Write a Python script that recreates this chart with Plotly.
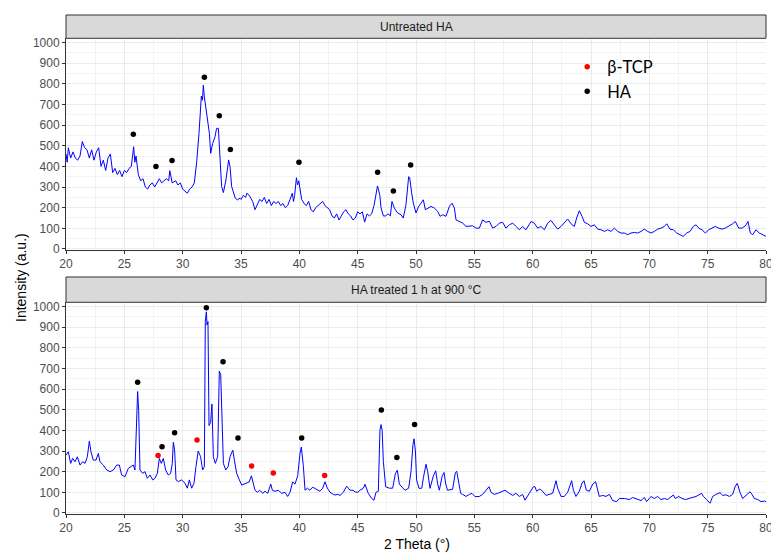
import plotly.graph_objects as go

# ---------------- data ----------------
untreated_x = [20.0, 20.1, 20.2, 20.4, 20.6, 20.8, 21.0, 21.2, 21.4, 21.6, 21.8, 22.0, 22.2, 22.4, 22.6, 22.8,
               23.0, 23.2, 23.4, 23.6, 23.8, 24.0, 24.2, 24.4, 24.6, 24.8, 25.0, 25.2, 25.4, 25.6, 25.8, 25.9,
               26.0, 26.2, 26.4, 26.6, 26.8, 27.0, 27.2, 27.4, 27.6, 27.8, 28.0, 28.2, 28.4, 28.6, 28.8, 28.9,
               29.1, 29.4, 29.6, 29.8, 30.0, 30.2, 30.4, 30.6, 30.8, 31.0, 31.2, 31.4, 31.5, 31.6, 31.7, 31.77,
               31.85, 31.95, 32.11, 32.29, 32.4, 32.57, 32.77, 32.91, 33.06, 33.2, 33.34, 33.49, 33.71, 33.94,
               34.06, 34.2, 34.34, 34.51, 34.69, 34.91, 35.0, 35.2, 35.4, 35.5, 35.7, 35.9, 36.0, 36.2, 36.4,
               36.6, 36.8, 37.0, 37.2, 37.4, 37.6, 37.8, 38.0, 38.2, 38.4, 38.6, 38.8, 39.0, 39.2, 39.4, 39.5,
               39.6, 39.75, 39.85, 39.95, 40.05, 40.2, 40.4, 40.6, 40.8, 41.0, 41.2, 41.4, 41.6, 41.8, 42.0,
               42.2, 42.4, 42.6, 42.8, 43.0, 43.2, 43.4, 43.6, 43.8, 44.0, 44.2, 44.4, 44.6, 44.8, 45.0, 45.2,
               45.4, 45.6, 45.8, 46.0, 46.2, 46.4, 46.6, 46.7, 46.9, 47.0, 47.2, 47.4, 47.6, 47.8, 47.94, 48.14,
               48.43, 48.71, 48.91, 49.14, 49.37, 49.46, 49.63, 49.77, 50.0, 50.23, 50.43, 50.63, 50.8, 51.0,
               51.29, 51.57, 51.86, 52.06, 52.29, 52.57, 52.86, 53.09, 53.29, 53.43, 53.71, 54.0, 54.29, 54.57,
               54.86, 55.14, 55.43, 55.71, 56.0, 56.29, 56.57, 56.86, 57.14, 57.43, 57.71, 58.0, 58.29, 58.57,
               58.86, 59.14, 59.43, 59.86, 60.14, 60.43, 60.71, 61.0, 61.29, 61.57, 61.86, 62.14, 62.43, 62.71,
               63.0, 63.29, 63.57, 63.77, 64.0, 64.23, 64.43, 64.71, 65.0, 65.29, 65.57, 65.86, 66.14, 66.43,
               66.71, 67.0, 67.29, 67.57, 67.86, 68.14, 68.43, 68.71, 69.0, 69.29, 69.57, 69.86, 70.14, 70.43,
               70.71, 71.0, 71.29, 71.49, 71.77, 72.06, 72.34, 72.63, 72.91, 73.2, 73.49, 73.77, 74.0, 74.23,
               74.51, 74.8, 75.09, 75.37, 75.66, 75.94, 76.23, 76.51, 76.8, 77.14, 77.37, 77.66, 77.94, 78.23,
               78.46, 78.66, 78.86, 79.14, 79.43, 79.71, 80.0]
untreated_y = [460, 420, 490, 440, 470, 440, 430, 450, 520, 490, 480, 440, 480, 430, 470, 490,
               400, 430, 380, 440, 460, 370, 390, 360, 380, 350, 380, 370, 390, 400, 495, 420,
               450, 360, 330, 340, 300, 290, 310, 320, 300, 320, 340, 320, 330, 340, 330, 379,
               320, 330, 310, 320, 290, 280, 270, 290, 300, 320, 420, 560, 680, 740, 720, 793,
               740, 700, 624, 560, 463, 511, 543, 584, 584, 431, 302, 273, 334, 431,
               399, 302, 270, 246, 238, 246, 240, 260, 250, 270, 260, 240, 230, 190, 220,
               240, 230, 250, 220, 240, 210, 230, 220, 230, 210, 220, 200, 210, 240, 270, 230,
               260, 345, 310, 330, 290, 240, 220, 210, 230, 190, 180, 200, 210, 220, 230,
               210, 200, 190, 160, 150, 170, 140, 160, 180, 190, 170, 160, 140, 150, 180, 170,
               180, 130, 170, 160, 170, 210, 280, 305, 260, 200, 160, 160, 170, 160, 230, 198,
               174, 166, 150, 214, 350, 345, 270, 222, 174, 206, 222, 238, 190, 198,
               206, 198, 182, 158, 166, 158, 206, 222, 198, 141, 133, 125, 109, 109,
               112, 101, 101, 141, 129, 134, 101, 109, 125, 129, 101, 117, 125, 109,
               93, 109, 93, 133, 125, 101, 109, 93, 125, 138, 117, 96, 109, 125,
               145, 122, 109, 150, 185, 158, 129, 122, 109, 117, 96, 93, 85, 93,
               85, 101, 85, 77, 77, 69, 77, 80, 77, 85, 96, 85, 77, 85,
               96, 101, 109, 122, 96, 93, 77, 69, 61, 77, 85, 109, 117, 101,
               93, 77, 93, 101, 109, 101, 96, 101, 109, 122, 133, 101, 101, 112,
               133, 77, 69, 93, 77, 69, 61]

treated_x = [20.0, 20.2, 20.4, 20.57, 20.77, 20.97, 21.2, 21.43, 21.63, 21.83, 22.0, 22.14, 22.34, 22.57,
             22.77, 22.91, 23.2, 23.49, 23.77, 24.06, 24.34, 24.57, 24.77, 25.06, 25.34, 25.57, 25.77, 25.91,
             26.06, 26.14, 26.23, 26.34, 26.57, 26.77, 26.97, 27.2, 27.43, 27.63, 27.83, 28.0, 28.17, 28.34,
             28.54, 28.77, 28.97, 29.11, 29.2, 29.31, 29.43, 29.63, 29.91, 30.2, 30.4, 30.57, 30.77, 30.97,
             31.14, 31.33, 31.54, 31.71, 31.86, 31.94, 32.03, 32.09, 32.17, 32.26, 32.4, 32.51, 32.63, 32.8,
             33.0, 33.14, 33.26, 33.37, 33.49, 33.69, 33.89, 34.06, 34.3, 34.43, 34.63, 34.86, 35.06, 35.26,
             35.49, 35.7, 35.89, 36.05, 36.2, 36.4, 36.6, 36.86, 37.06, 37.29, 37.55, 37.69, 37.91, 38.2,
             38.49, 38.77, 39.0, 39.2, 39.43, 39.63, 39.86, 40.06, 40.17, 40.34, 40.49, 40.69, 40.91, 41.14,
             41.34, 41.54, 41.77, 42.0, 42.2, 42.4, 42.63, 42.91, 43.06, 43.3, 43.49, 43.77, 44.06, 44.34,
             44.6, 44.77, 45.0, 45.2, 45.49, 45.63, 45.91, 46.2, 46.4, 46.57, 46.77, 46.91, 47.0, 47.1,
             47.2, 47.4, 47.71, 48.0, 48.23, 48.4, 48.57, 48.8, 49.06, 49.37, 49.57, 49.74, 49.83, 49.95,
             50.05, 50.26, 50.5, 50.63, 50.86, 51.0, 51.2, 51.49, 51.69, 51.86, 52.0, 52.25, 52.4, 52.55,
             52.7, 53.14, 53.37, 53.49, 53.65, 53.83, 54.0, 54.29, 54.57, 54.8, 55.06, 55.43, 55.71, 56.0,
             56.26, 56.43, 56.71, 57.0, 57.37, 57.63, 58.0, 58.29, 58.57, 58.86, 59.14, 59.34, 59.71, 60.06,
             60.2, 60.34, 60.57, 60.77, 61.14, 61.43, 61.71, 62.0, 62.14, 62.43, 62.71, 63.0, 63.34, 63.49,
             63.71, 64.0, 64.23, 64.4, 64.6, 64.86, 65.15, 65.4, 65.55, 65.71, 66.0, 66.29, 66.57, 66.86,
             67.2, 67.43, 67.86, 68.29, 68.57, 69.0, 69.29, 69.57, 69.77, 70.14, 70.43, 70.71, 71.0, 71.29,
             71.57, 72.06, 72.23, 72.51, 72.8, 73.09, 73.37, 73.71, 74.0, 74.49, 74.63, 74.91, 75.2, 75.43,
             75.71, 76.06, 76.29, 76.57, 76.86, 77.14, 77.37, 77.54, 77.77, 78.0, 78.29, 78.63, 78.8, 79.0,
             79.29, 79.57, 79.86, 80.0]
treated_y = [280, 296, 240, 264, 248, 272, 232, 248, 240, 272, 348, 296, 256, 256,
             288, 248, 232, 208, 200, 208, 232, 232, 184, 176, 216, 224, 232, 208,
             479, 588, 495, 208, 192, 200, 168, 184, 160, 168, 192, 264, 240, 264,
             208, 184, 192, 240, 343, 304, 160, 152, 160, 144, 120, 160, 120, 144,
             224, 300, 272, 208, 224, 927, 974, 910, 927, 423, 439, 527, 272, 240,
             272, 687, 671, 447, 240, 208, 224, 272, 304, 256, 192, 160, 135, 140,
             145, 150, 180, 140, 110, 100, 110, 95, 105, 95, 140, 110, 105, 110,
             95, 100, 80, 100, 150, 140, 180, 290, 319, 230, 110, 120, 110, 125,
             119, 115, 105, 120, 151, 120, 100, 90, 87, 90, 85, 100, 130, 110,
             110, 102, 100, 110, 120, 139, 95, 70, 62, 100, 105, 400, 428, 400,
             250, 127, 120, 120, 190, 207, 140, 125, 110, 120, 200, 330, 359, 300,
             160, 119, 120, 170, 236, 200, 119, 180, 204, 140, 110, 180, 196, 140,
             110, 115, 195, 202, 140, 95, 90, 80, 90, 95, 79, 80, 90, 110,
             127, 100, 90, 95, 105, 110, 95, 85, 95, 80, 90, 62, 95, 127,
             127, 105, 115, 110, 85, 90, 95, 156, 120, 80, 80, 100, 156, 110,
             80, 105, 145, 156, 110, 105, 140, 151, 110, 80, 85, 80, 90, 60,
             55, 70, 70, 65, 75, 65, 60, 75, 55, 80, 70, 80, 65, 70,
             65, 87, 70, 80, 70, 65, 70, 75, 80, 95, 80, 65, 47, 80,
             90, 98, 85, 88, 80, 90, 130, 143, 100, 70, 85, 103, 90, 70,
             65, 55, 58, 55]

untreated_ha_x = [25.77, 27.71, 29.09, 31.86, 33.14, 34.09, 39.97, 46.71, 48.06, 49.54]
untreated_ha_y = [555, 399, 428, 831, 645, 482, 420, 371, 281, 407]
treated_ha_x = [26.14, 28.23, 29.31, 32.03, 33.46, 34.74, 40.2, 47.03, 48.36, 49.88]
treated_ha_y = [633, 321, 388, 994, 732, 363, 363, 499, 268, 428]
treated_tcp_x = [27.89, 31.23, 35.91, 37.77, 42.17]
treated_tcp_y = [278, 353, 228, 193, 182]

panel_titles = ["Untreated HA", "HA treated 1 h at 900 °C"]
x_ticks = list(range(20, 81, 5))
y_ticks = list(range(0, 1001, 100))

# ---------------- figure ----------------
fig = go.Figure()
line_style = dict(color="#0000FF", width=1)
fig.add_trace(go.Scatter(x=untreated_x, y=untreated_y, mode="lines", line=line_style,
                         showlegend=False, xaxis="x", yaxis="y"))
fig.add_trace(go.Scatter(x=treated_x, y=treated_y, mode="lines", line=line_style,
                         showlegend=False, xaxis="x2", yaxis="y2"))

fig.add_trace(go.Scatter(x=treated_tcp_x, y=treated_tcp_y, mode="markers", name="β-TCP",
                         marker=dict(color="#FF0000", size=5.5), legendgroup="tcp",
                         xaxis="x2", yaxis="y2"))
fig.add_trace(go.Scatter(x=untreated_ha_x, y=untreated_ha_y, mode="markers", name="HA",
                         marker=dict(color="#000000", size=5.5), legendgroup="ha",
                         xaxis="x", yaxis="y"))
fig.add_trace(go.Scatter(x=treated_ha_x, y=treated_ha_y, mode="markers", name="HA",
                         marker=dict(color="#000000", size=5.5), legendgroup="ha",
                         showlegend=False, xaxis="x2", yaxis="y2"))

H_PLOT = 499.0
def py(px):
    return (514.0 - px) / H_PLOT

top_dom = [py(250), py(38.3)]
bot_dom = [0.0, py(302.3)]

tickfont = dict(family="Arial, Liberation Sans, sans-serif", size=12, color="#4D4D4D")
common_x = dict(range=[20, 80], tickvals=x_ticks, ticks="outside", ticklen=3, tickcolor="#333333",
                tickfont=tickfont, showline=True, linecolor="#333333", linewidth=1,
                showgrid=True, gridcolor="#EBEBEB", gridwidth=1, zeroline=False,
                automargin=False, ticklabeloverflow="allow",
                minor=dict(dtick=2.5, tick0=20, showgrid=True, gridcolor="#F3F3F3", gridwidth=1, ticks=""))
common_y = dict(range=[-5, 1020], tickvals=y_ticks, ticks="outside", ticklen=3, tickcolor="#333333",
                tickfont=tickfont, showline=True, linecolor="#333333", linewidth=1,
                showgrid=True, gridcolor="#EBEBEB", gridwidth=1, zeroline=False,
                automargin=False, ticklabeloverflow="allow",
                minor=dict(dtick=50, tick0=0, showgrid=True, gridcolor="#F3F3F3", gridwidth=1, ticks=""))

fig.update_layout(
    width=771, height=552,
    margin=dict(l=66, r=5, t=15, b=38, autoexpand=False),
    paper_bgcolor="white", plot_bgcolor="white",
    font=dict(family="Arial, Liberation Sans, sans-serif", color="#000000"),
    xaxis=dict(domain=[0, 1], anchor="y", **common_x),
    yaxis=dict(domain=top_dom, anchor="x", **common_y),
    xaxis2=dict(domain=[0, 1], anchor="y2", **common_x),
    yaxis2=dict(domain=bot_dom, anchor="x2", **common_y),
    legend=dict(x=0.716, y=py(79), xanchor="left", yanchor="middle", bgcolor="rgba(0,0,0,0)",
                font=dict(family="Lato, Open Sans, sans-serif", size=16.5, color="#000000"),
                traceorder="normal", itemwidth=30),
    showlegend=True,
)

# facet strips
strips = [(py(15), py(38.3), panel_titles[0]), (py(277), py(302.3), panel_titles[1])]
for y1, y0, title in strips:
    fig.add_shape(type="rect", xref="paper", yref="paper", x0=0, x1=1, y0=y0, y1=y1,
                  fillcolor="#D9D9D9", line=dict(color="#333333", width=1), layer="above")
    fig.add_annotation(text=title, xref="paper", yref="paper", x=0.5, y=(y0 + y1) / 2,
                       showarrow=False, xanchor="center", yanchor="middle",
                       font=dict(family="Arial, Liberation Sans, sans-serif", size=12, color="#1A1A1A"))

fig.add_annotation(text="Intensity (a.u.)", xref="paper", yref="paper", x=(21 - 66) / 700, y=py(278),
                   textangle=-90, showarrow=False, xanchor="center", yanchor="middle",
                   font=dict(family="Arial, Liberation Sans, sans-serif", size=14, color="#000000"))
fig.add_annotation(text="2 Theta (°)", xref="paper", yref="paper", x=(417 - 66) / 700, y=py(544),
                   showarrow=False, xanchor="center", yanchor="middle",
                   font=dict(family="Arial, Liberation Sans, sans-serif", size=14, color="#000000"))

fig.write_html("out.html", config={"displayModeBar": False},
               post_script=["document.body.style.margin='0px';document.body.style.overflow='hidden';"])
